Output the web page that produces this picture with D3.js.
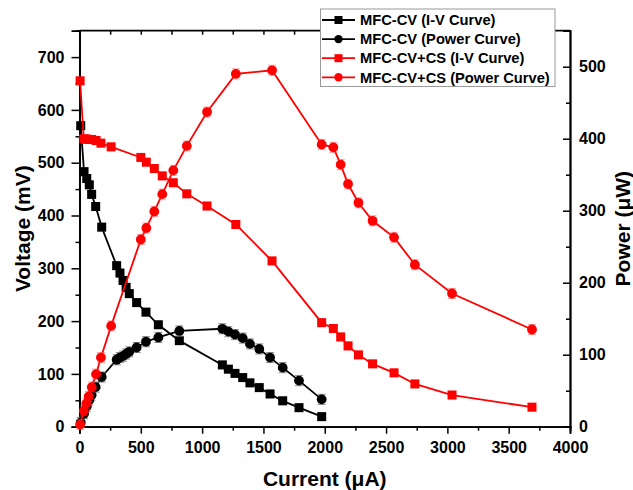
<!DOCTYPE html>
<html>
<head>
<meta charset="utf-8">
<script src="https://cdn.jsdelivr.net/npm/d3@7"></script>
<style>
  body { margin: 0; background: #fff; }
  text { font-family: "Liberation Sans", Arial, sans-serif; font-weight: bold; }
</style>
</head>
<body>
<div id="chart"></div>
<script>
// MFC-CV
const cvCurrent = [10, 37, 59, 80, 99, 132, 181, 303, 330, 355, 380, 406, 466, 542, 643, 814, 1165, 1214, 1268, 1331, 1390, 1466, 1554, 1657, 1790, 1975];
const cvVoltage = [570, 483, 470, 458, 440, 417, 378, 305, 291, 277, 264, 252, 235, 217, 193, 163, 117, 109, 101, 93, 83, 74, 62, 49, 36, 19];
const cvPower   = [6, 18, 28, 37, 44, 55, 69, 93, 96, 98, 101, 104, 110, 118, 124, 133, 136, 132, 128, 123, 115, 108, 96, 82, 64, 38];
// MFC-CV+CS
const csCurrent = [5, 35, 55, 75, 100, 135, 175, 258, 500, 545, 610, 675, 765, 875, 1040, 1275, 1570, 1975, 2070, 2130, 2190, 2275, 2390, 2565, 2735, 3038, 3690];
const csVoltage = [655, 545, 545, 544, 544, 542, 537, 530, 510, 501, 489, 475, 462, 441, 418, 383, 314, 197, 186, 170, 153, 136, 119, 102, 81, 60, 37];
const csPower   = [3, 22, 32, 42, 55, 73, 96, 140, 260, 276, 299, 323, 356, 390, 437, 490, 495, 392, 388, 364, 337, 311, 286, 263, 225, 185, 135];
// error bar half-widths (mV / µW)
const errV = [7];
const errP = [7];

const xTicks = [0, 500, 1000, 1500, 2000, 2500, 3000, 3500, 4000];
const yTicksV = [0, 100, 200, 300, 400, 500, 600, 700];
const yTicksP = [0, 100, 200, 300, 400, 500];

const legendLabels = ["MFC-CV (I-V Curve)", "MFC-CV (Power Curve)", "MFC-CV+CS (I-V Curve)", "MFC-CV+CS (Power Curve)"];

const W = 633, H = 490;
const pLeft = 79.5, pRight = 570, pTop = 30.7, pBottom = 426.7;

const svg = d3.select("#chart").append("svg")
    .attr("width", W)
    .attr("height", H);

const x = d3.scaleLinear().domain([0, 4000]).range([pLeft, pRight]);
const yV = d3.scaleLinear().domain([0, 750]).range([pBottom, pTop]);
const yP = d3.scaleLinear().domain([0, 550]).range([pBottom, pTop]);

// minor ticks
const xMinor = d3.range(250, 4000, 500);
const vMinor = d3.range(50, 750, 100);
const pMinor = d3.range(50, 550, 100);

function styleAxis(g) {
    g.selectAll("path").attr("stroke", "#000").attr("stroke-width", 1.8);
    g.selectAll("line").attr("stroke", "#000").attr("stroke-width", 1.5);
    g.selectAll("text").attr("font-size", 16).attr("fill", "#000");
}

// bottom
svg.append("g").attr("transform", `translate(0,${pBottom})`)
    .call(d3.axisBottom(x).tickValues(xMinor).tickSize(4).tickFormat(""))
    .call(styleAxis);
svg.append("g").attr("transform", `translate(0,${pBottom})`)
    .call(d3.axisBottom(x).tickValues(xTicks).tickSize(7).tickPadding(8).tickFormat(d3.format("d")))
    .call(styleAxis);

// top (inward ticks)
svg.append("g").attr("transform", `translate(0,${pTop})`)
    .call(d3.axisBottom(x).tickValues(d3.range(250, 4000, 250)).tickSize(4).tickFormat(""))
    .call(g => g.select(".domain").remove())
    .call(styleAxis);
svg.append("line")
    .attr("x1", pLeft).attr("x2", pRight).attr("y1", pTop).attr("y2", pTop)
    .attr("stroke", "#000").attr("stroke-width", 1.8);

// left
svg.append("g").attr("transform", `translate(${pLeft},0)`)
    .call(d3.axisLeft(yV).tickValues(vMinor).tickSize(4).tickFormat(""))
    .call(styleAxis);
svg.append("g").attr("transform", `translate(${pLeft},0)`)
    .call(d3.axisLeft(yV).tickValues(yTicksV).tickSize(8).tickPadding(7))
    .call(styleAxis);

// right (inward ticks)
svg.append("g").attr("transform", `translate(${pRight},0)`)
    .call(d3.axisLeft(yP).tickValues(pMinor).tickSize(4).tickFormat(""))
    .call(styleAxis);
const rAxis = svg.append("g").attr("transform", `translate(${pRight},0)`)
    .call(d3.axisLeft(yP).tickValues(yTicksP).tickSize(7).tickFormat(d3.format("d")))
    .call(styleAxis);
rAxis.selectAll("text").attr("text-anchor", "start").attr("x", 9);

// axis titles
svg.append("text")
    .attr("x", (pLeft + pRight) / 2).attr("y", 486)
    .attr("text-anchor", "middle").attr("font-size", 21)
    .text("Current (μA)");
svg.append("text")
    .attr("transform", `translate(30,${(pTop + pBottom) / 2}) rotate(-90)`)
    .attr("text-anchor", "middle").attr("font-size", 21)
    .text("Voltage (mV)");
svg.append("text")
    .attr("transform", `translate(630,${(pTop + pBottom) / 2}) rotate(-90)`)
    .attr("text-anchor", "middle").attr("font-size", 21)
    .text("Power (μW)");

// series
const series = [
    { xs: cvCurrent, ys: cvVoltage, y: yV, err: errV[0], color: "#000", errColor: "#888", shape: "square" },
    { xs: cvCurrent, ys: cvPower, y: yP, err: errP[0], color: "#000", errColor: "#888", shape: "circle" },
    { xs: csCurrent, ys: csVoltage, y: yV, err: errV[0], color: "#ff0000", errColor: "rgba(255,80,80,0.55)", shape: "square" },
    { xs: csCurrent, ys: csPower, y: yP, err: errP[0], color: "#ff0000", errColor: "rgba(255,80,80,0.55)", shape: "circle" }
];

series.forEach(s => {
    const pts = s.xs.map((c, i) => [c, s.ys[i]]);
    const g = svg.append("g");

    g.append("path")
        .datum(pts)
        .attr("fill", "none")
        .attr("stroke", s.color)
        .attr("stroke-width", 1.8)
        .attr("d", d3.line().x(d => x(d[0])).y(d => s.y(d[1])));

    // error bars
    const eb = g.selectAll("g.err").data(pts).enter().append("g")
        .attr("stroke", s.errColor).attr("stroke-width", 1);
    eb.append("line")
        .attr("x1", d => x(d[0])).attr("x2", d => x(d[0]))
        .attr("y1", d => s.y(d[1] - s.err)).attr("y2", d => s.y(d[1] + s.err));
    eb.append("line")
        .attr("x1", d => x(d[0]) - 4).attr("x2", d => x(d[0]) + 4)
        .attr("y1", d => s.y(d[1] + s.err)).attr("y2", d => s.y(d[1] + s.err));
    eb.append("line")
        .attr("x1", d => x(d[0]) - 4).attr("x2", d => x(d[0]) + 4)
        .attr("y1", d => s.y(d[1] - s.err)).attr("y2", d => s.y(d[1] - s.err));

    if (s.shape === "square") {
        g.selectAll("rect").data(pts).enter().append("rect")
            .attr("x", d => x(d[0]) - 4.5).attr("y", d => s.y(d[1]) - 4.5)
            .attr("width", 9).attr("height", 9)
            .attr("fill", s.color);
    } else {
        g.selectAll("circle").data(pts).enter().append("circle")
            .attr("cx", d => x(d[0])).attr("cy", d => s.y(d[1]))
            .attr("r", 4.9)
            .attr("fill", s.color);
    }
});

// legend
const lg = svg.append("g");
lg.append("rect")
    .attr("x", 320.5).attr("y", 9).attr("width", 234.5).attr("height", 77.5)
    .attr("fill", "#fff").attr("stroke", "#999").attr("stroke-width", 1);

legendLabels.forEach((lab, i) => {
    const s = series[i];
    const cy = 20 + i * 19.1;
    lg.append("line")
        .attr("x1", 322).attr("x2", 355).attr("y1", cy).attr("y2", cy)
        .attr("stroke", s.color).attr("stroke-width", 1.8);
    if (s.shape === "square") {
        lg.append("rect").attr("x", 334.5).attr("y", cy - 4).attr("width", 8).attr("height", 8).attr("fill", s.color);
    } else {
        lg.append("circle").attr("cx", 338.5).attr("cy", cy).attr("r", 4.2).attr("fill", s.color);
    }
    lg.append("text")
        .attr("x", 360).attr("y", cy).attr("dy", "0.36em")
        .attr("font-size", 14.7)
        .text(lab);
});
</script>
</body>
</html>
